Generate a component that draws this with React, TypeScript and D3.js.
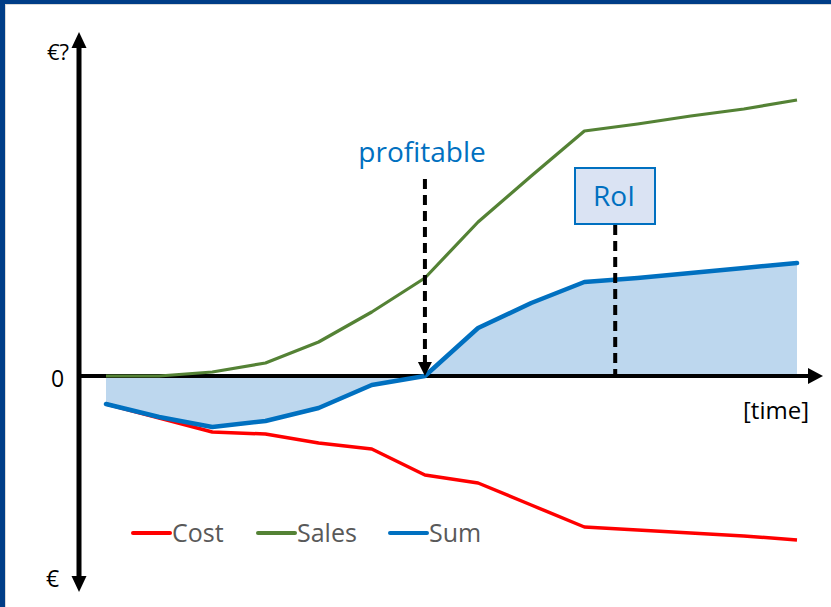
import React from "react";
import * as d3 from "d3";

const timeIdx = [0, 1, 2, 3, 4, 5, 6, 7, 8, 9, 10, 11, 12, 13];
const sales = [0, 0, 4, 13, 34, 64, 98, 154, 200, 245, 252, 260, 267, 276];
const cost = [-28, -42, -56, -58, -67, -73, -99, -107, -129, -151, -154, -157, -160, -164];
const sum = [-28, -41, -51, -45, -32, -9, 0, 48, 73, 94, 98, 103, 108, 113];
const legendItems = [
  { name: "Cost", color: "#ff0000" },
  { name: "Sales", color: "#548235" },
  { name: "Sum", color: "#0070c0" },
];
const profitableIdx = 6;
const roiIdx = 9.58;

const W = 831;
const H = 607;
const FONT = "'Open Sans', 'Noto Sans', sans-serif";

export default function App() {
  const x = d3.scaleLinear().domain([0, 13]).range([106, 797]);
  const y = d3.scaleLinear().domain([-215, 343]).range([591, 33]);
  const y0 = y(0);
  const axisX = 79;

  const line = d3
    .line<number>()
    .x((_, i) => x(timeIdx[i]))
    .y((d) => y(d));
  const area = d3
    .area<number>()
    .x((_, i) => x(timeIdx[i]))
    .y0(y0)
    .y1((d) => y(d));

  const px = x(profitableIdx);
  const rx = x(roiIdx);

  const legendX = [133, 258, 390];

  return (
    <div style={{ position: "absolute", left: 0, top: 0 }}>
      <svg width={W} height={H} style={{ display: "block" }}>
        <rect x={0} y={0} width={W} height={H} fill="#003d87" />
        <rect x={5} y={4} width={W - 5} height={H - 4} fill="#d9d9d9" />
        <rect x={6} y={5} width={W - 6} height={H - 5} fill="#ffffff" />

        <path d={area(sum) || ""} fill="#bdd7ee" />

        {/* x axis */}
        <line x1={axisX} x2={808} y1={y0} y2={y0} stroke="#000" strokeWidth={4} />
        <path d={`M808,${y0 - 8} L823,${y0} L808,${y0 + 8} Z`} fill="#000" />

        {/* y axis */}
        <line x1={axisX} x2={axisX} y1={47} y2={577} stroke="#000" strokeWidth={5} />
        <path d={`M${axisX - 7.5},48 L${axisX},32 L${axisX + 7.5},48 Z`} fill="#000" />
        <path d={`M${axisX - 7.5},576 L${axisX},592 L${axisX + 7.5},576 Z`} fill="#000" />

        <path d={line(cost) || ""} fill="none" stroke="#ff0000" strokeWidth={3.5} strokeLinejoin="round" />
        <path d={line(sales) || ""} fill="none" stroke="#548235" strokeWidth={3.2} strokeLinejoin="round" />
        <path d={line(sum) || ""} fill="none" stroke="#0070c0" strokeWidth={4.5} strokeLinejoin="round" strokeLinecap="round" />

        {/* profitable marker */}
        <line x1={px} x2={px} y1={179} y2={362} stroke="#000" strokeWidth={4} strokeDasharray="10 6" />
        <path d={`M${px - 7},362 L${px},${y0} L${px + 7},362 Z`} fill="#000" />
        <text x={422} y={162} textAnchor="middle" fontFamily={FONT} fontSize={28} fill="#0070c0">
          profitable
        </text>

        {/* RoI marker */}
        <line x1={rx} x2={rx} y1={225} y2={y0} stroke="#000" strokeWidth={4} strokeDasharray="10 6" />
        <rect x={575} y={168} width={80} height={56} fill="#dae3f3" stroke="#0070c0" strokeWidth={2} />
        <text x={614} y={206} textAnchor="middle" fontFamily={FONT} fontSize={28} fill="#0070c0">
          RoI
        </text>

        {/* axis labels */}
        <text x={47} y={60} fontFamily={FONT} fontSize={22} fill="#000">€?</text>
        <text x={51} y={387} fontFamily={FONT} fontSize={23} fill="#000">0</text>
        <text x={46} y={587} fontFamily={FONT} fontSize={23} fill="#000">€</text>
        <text x={776} y={419} textAnchor="middle" fontFamily={FONT} fontSize={24} fill="#000">[time]</text>

        {/* legend */}
        {legendItems.map((it, i) => (
          <g key={it.name}>
            <line x1={legendX[i]} x2={legendX[i] + 37} y1={533} y2={533} stroke={it.color} strokeWidth={4} strokeLinecap="round" />
            <text x={legendX[i] + 39} y={542} fontFamily={FONT} fontSize={25} fill="#595959">
              {it.name}
            </text>
          </g>
        ))}
      </svg>
    </div>
  );
}
